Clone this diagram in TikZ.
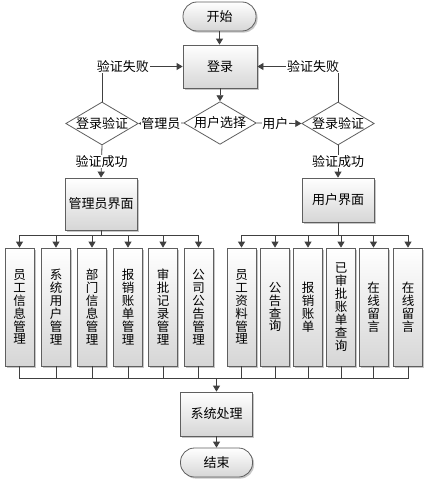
\documentclass[tikz,border=0pt]{standalone}
\usepackage{fontspec}
\setmainfont{Noto Sans CJK SC}
\usetikzlibrary{shapes.geometric,arrows.meta,shadows}
\definecolor{linec}{RGB}{64,64,64}
\definecolor{bordc}{RGB}{95,95,95}
\definecolor{fillb}{RGB}{214,214,214}
\begin{document}
\begin{tikzpicture}[x=1pt,y=-1pt,
  shadowed/.style={drop shadow={shadow xshift=1.6pt,shadow yshift=-1.6pt,fill=gray!45,opacity=1}},
  box/.style={draw=bordc,line width=0.8pt,top color=white,bottom color=fillb,shadowed,
    inner sep=0pt,font=\fontsize{13}{15}\selectfont},
  term/.style={box,rounded corners=14pt},
  dia/.style={diamond,draw=bordc,line width=0.8pt,fill=white,inner sep=0pt,aspect=1.7,
    font=\fontsize{13}{15}\selectfont},
  vbox/.style={box,minimum width=29pt,minimum height=118pt,align=center,
    font=\fontsize{12.5}{12.9}\selectfont},
  lbl/.style={fill=white,inner sep=0.8pt,font=\fontsize{13}{15}\selectfont},
  conn/.style={draw=linec,line width=0.8pt},
  arr/.style={conn,-{Triangle[length=6pt,width=7pt]}}
]
\useasboundingbox (0,0) rectangle (423,479);

\node[term,minimum width=73pt,minimum height=29pt] (start) at (219.5,16.5) {开始};
\node[box,minimum width=74pt,minimum height=43pt] (login) at (220,66.5) {登录};
\node[dia,minimum width=72pt,minimum height=42pt] (choice) at (220,123) {用户选择};
\node[dia,minimum width=69pt,minimum height=43pt] (lv) at (102,123.5) {登录验证};
\node[dia,minimum width=70pt,minimum height=43pt] (rv) at (338,123.5) {登录验证};
\node[box,minimum width=72pt,minimum height=52pt] (admin) at (101,204) {管理员界面};
\node[box,minimum width=72pt,minimum height=44pt] (user) at (338,200) {用户界面};

\node[vbox] (l1) at (19.5,307) {员\\工\\信\\息\\管\\理};
\node[vbox] (l2) at (56,307) {系\\统\\用\\户\\管\\理};
\node[vbox] (l3) at (92,307) {部\\门\\信\\息\\管\\理};
\node[vbox] (l4) at (128,307) {报\\销\\账\\单\\管\\理};
\node[vbox] (l5) at (163,307) {审\\批\\记\\录\\管\\理};
\node[vbox] (l6) at (198.5,307) {公\\司\\公\\告\\管\\理};

\node[vbox] (r1) at (241.5,307) {员\\工\\资\\料\\管\\理};
\node[vbox] (r2) at (275,307) {公\\告\\查\\询};
\node[vbox] (r3) at (308,307) {报\\销\\账\\单};
\node[vbox] (r4) at (341,307) {已\\审\\批\\账\\单\\查\\询};
\node[vbox] (r5) at (373.5,307) {在\\线\\留\\言};
\node[vbox] (r6) at (408,307) {在\\线\\留\\言};

\node[box,minimum width=72pt,minimum height=44pt] (sys) at (216.5,414) {系统处理};
\node[term,minimum width=72pt,minimum height=29pt] (end) at (216.5,462.5) {结束};

% main flow
\draw[arr] (start.south) -- (start.south |- login.north);
\draw[arr] (login) -- (choice);
\draw[arr] (choice.west) -- node[lbl]{管理员} (lv.east);
\draw[arr] (choice.east) -- node[lbl,pos=0.42]{用户} (rv.west);
\draw[arr] (lv.north) |- node[lbl,pos=0.63]{验证失败} (login.west);
\draw[arr] (rv.north) |- node[lbl,pos=0.654]{验证失败} (login.east);
\draw[arr] (lv.south) -- node[lbl]{验证成功} (admin.north);
\draw[arr] (rv.south) -- node[lbl]{验证成功} (user.north);

% branches
\coordinate (ab) at (101,235);
\coordinate (ub) at (338,235);
\draw[conn] (admin.south) -- (ab);
\draw[conn] (user.south) -- (ub);
\foreach \n in {l1,l2,l3,l4,l5,l6} \draw[arr] (ab) -| (\n.north);
\foreach \n in {r1,r2,r3,r4,r5,r6} \draw[arr] (ub) -| (\n.north);

% merge
\coordinate (mb) at (216.5,378);
\foreach \n in {l1,l2,l3,l4,l5,l6,r1,r2,r3,r4,r5,r6} \draw[conn] (\n.south) |- (mb);
\draw[arr] (mb) -- (sys.north);
\draw[arr] (sys) -- (end);
\end{tikzpicture}
\end{document}
